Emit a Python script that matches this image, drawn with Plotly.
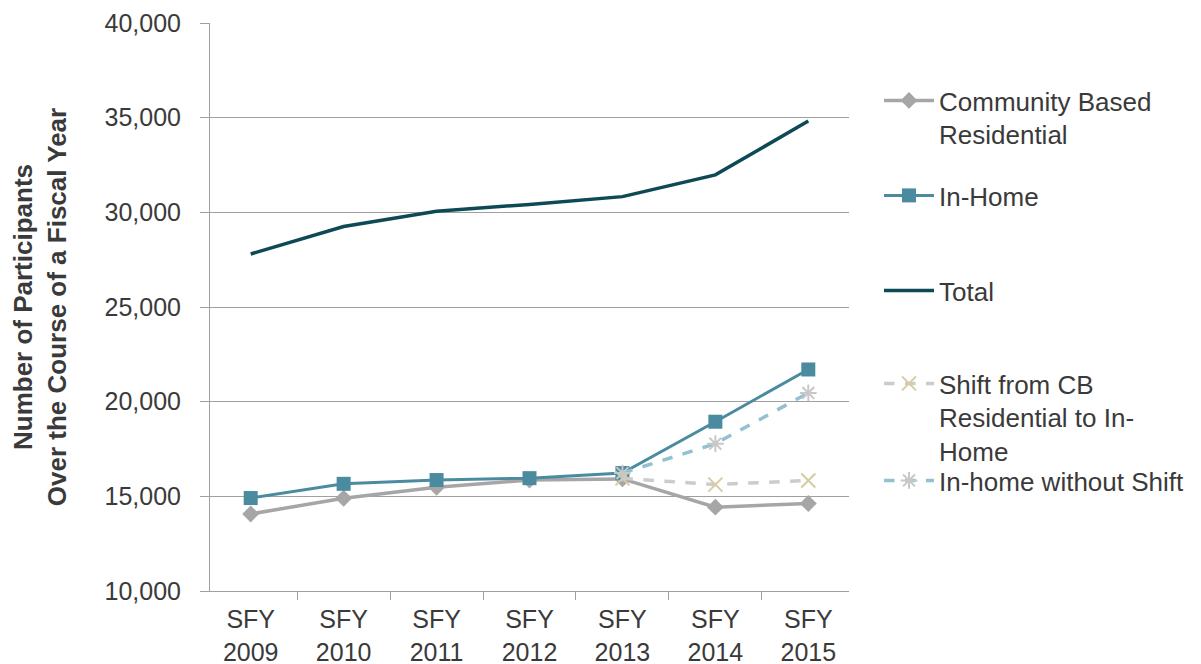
import plotly.graph_objects as go

years = ["SFY<br>2009", "SFY<br>2010", "SFY<br>2011", "SFY<br>2012", "SFY<br>2013", "SFY<br>2014", "SFY<br>2015"]
community_based = [14070, 14900, 15480, 15860, 15920, 14430, 14620]
in_home = [14910, 15660, 15860, 15960, 16230, 18940, 21700]
total = [27800, 29250, 30060, 30420, 30830, 31980, 34820]
shift_years = years[4:]
shift_cb_to_in_home = [15950, 15620, 15840]
in_home_without_shift = [16230, 17780, 20460]

tick_vals = [10000, 15000, 20000, 25000, 30000, 35000, 40000]
tick_text = ["10,000", "15,000", "20,000", "25,000", "30,000", "35,000", "40,000"]

fig = go.Figure()
fig.add_trace(go.Scatter(x=years, y=community_based, name="Community Based<br>Residential",
                         mode="lines+markers", line=dict(color="#A6A6A6", width=3.5),
                         marker=dict(symbol="diamond", size=13, color="#A6A6A6"), legend="legend"))
fig.add_trace(go.Scatter(x=years, y=in_home, name="In-Home",
                         mode="lines+markers", line=dict(color="#4A8BA0", width=3),
                         marker=dict(symbol="square", size=14, color="#4A8BA0"), legend="legend2"))
fig.add_trace(go.Scatter(x=years, y=total, name="Total",
                         mode="lines", line=dict(color="#0E4A56", width=3.5), legend="legend3"))
fig.add_trace(go.Scatter(x=shift_years, y=shift_cb_to_in_home, name="Shift from CB<br>Residential to In-<br>Home",
                         mode="lines+markers", line=dict(color="#CCCCCC", width=3.5, dash="dash"),
                         marker=dict(symbol="x-thin", size=14, color="#D8CBA0", line=dict(color="#D8CBA0", width=2)),
                         legend="legend4"))
fig.add_trace(go.Scatter(x=shift_years, y=in_home_without_shift, name="In-home without Shift",
                         mode="lines+markers", line=dict(color="#93C1D0", width=3.5, dash="dash"),
                         marker=dict(symbol="asterisk-open", size=14, color="#C8C8C8", line=dict(color="#C8C8C8", width=2)),
                         legend="legend5"))

font_col = "#3A3A3A"
FONT = "Liberation Sans, Arial, sans-serif"
# plot area on page: left 210, right 850, top 23, bottom 591 (page has 8px body margin)
def leg(ypix):
    return dict(x=(879 - 210) / 640, xanchor="left", y=(591 - ypix) / 568, yanchor="top",
                font=dict(family=FONT, size=26, color=font_col), valign="top",
                bgcolor="rgba(0,0,0,0)", itemwidth=50, tracegroupgap=0)

fig.update_layout(
    width=1193, height=656,
    margin=dict(l=202, r=351, t=15, b=73),
    plot_bgcolor="white", paper_bgcolor="white",
    font=dict(family=FONT, size=25, color=font_col),
    showlegend=True,
    legend=leg(77), legend2=leg(172), legend3=leg(267), legend4=leg(360), legend5=leg(457),
    xaxis=dict(type="category", showline=True, linecolor="#A0A0A0", linewidth=1,
               ticks="outside", tickson="boundaries", ticklen=8, tickcolor="#A0A0A0",
               showgrid=False, automargin=False, ticklabelstandoff=6,
               tickfont=dict(size=25, color=font_col)),
    yaxis=dict(range=[10000, 40000], tickvals=tick_vals, ticktext=tick_text,
               showline=True, linecolor="#A0A0A0", linewidth=1, ticks="outside", ticklen=9,
               tickcolor="#A0A0A0", gridcolor="#A0A0A0", gridwidth=1, zeroline=False,
               ticklabelstandoff=14, automargin=False,
               tickfont=dict(size=25, color=font_col),
               title=dict(text="<b>Number of Participants<br>Over the Course of a Fiscal Year</b>",
                          font=dict(size=26, color=font_col), standoff=39)),
)

fig.write_html("out.html")
